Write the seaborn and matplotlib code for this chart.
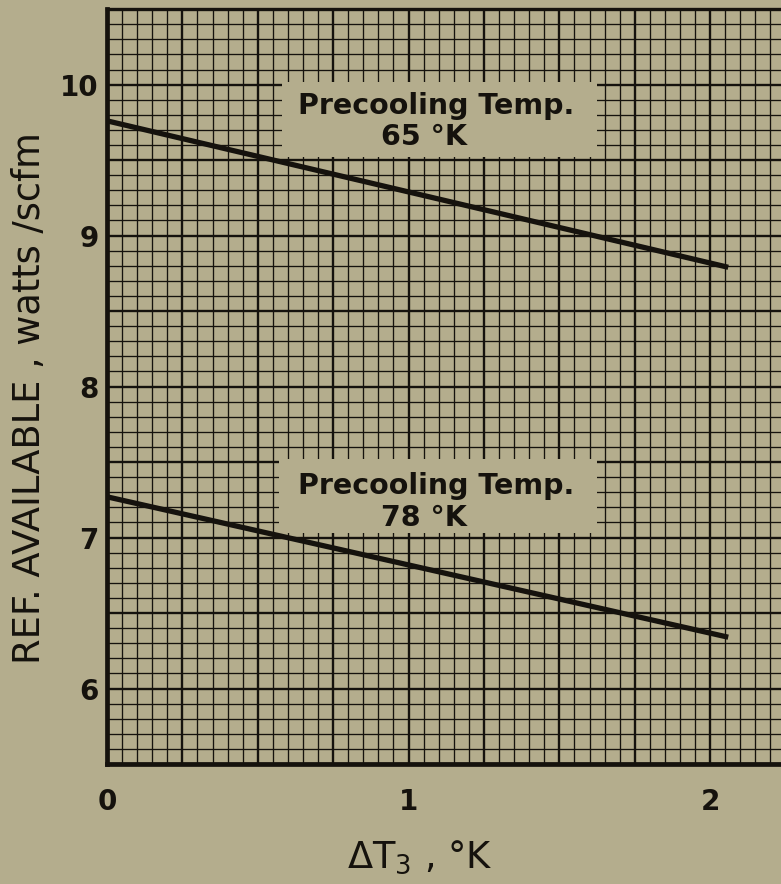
import numpy as np
import pandas as pd
import matplotlib
matplotlib.use("Agg")
import matplotlib.pyplot as plt
import matplotlib.patches as mpatches
from matplotlib.ticker import MultipleLocator, FuncFormatter
import seaborn as sns

# ------------------------------------------------------------------
# Data
# ------------------------------------------------------------------
dt3 = [0.0, 2.06]                     # delta T3, K
ref_65k = [9.76, 8.79]                # watts/scfm, precooling 65 K
ref_78k = [7.27, 6.34]                # watts/scfm, precooling 78 K
curve_labels = ["65 °K", "78 °K"]

df = pd.DataFrame({
    "dt3": dt3 + dt3,
    "ref": ref_65k + ref_78k,
    "precool": [curve_labels[0]] * 2 + [curve_labels[1]] * 2,
})

# ------------------------------------------------------------------
# Style
# ------------------------------------------------------------------
BG = "#b4ad8d"
INK = "#15120d"

sns.set_theme(style="ticks")
plt.rcParams.update({
    "font.family": ["DejaVu Sans"],
    "mathtext.fontset": "dejavusans",
    "figure.facecolor": BG,
    "axes.facecolor": BG,
    "text.color": INK,
    "axes.labelcolor": INK,
    "xtick.color": INK,
    "ytick.color": INK,
})

fig = plt.figure(figsize=(7.81, 8.84), dpi=100)
ax = fig.add_axes([0.137, 0.1357, 0.863, 0.854])

sns.lineplot(data=df, x="dt3", y="ref", units="precool", estimator=None,
             color=INK, lw=3.8, legend=False, ax=ax, zorder=4,
             solid_capstyle="butt")

ax.set_xlim(0, 2.235)
ax.set_ylim(5.5, 10.5)

# graph-paper grid
ax.xaxis.set_major_locator(MultipleLocator(0.25))
ax.xaxis.set_minor_locator(MultipleLocator(0.05))
ax.yaxis.set_major_locator(MultipleLocator(0.5))
ax.yaxis.set_minor_locator(MultipleLocator(0.1))
int_only = FuncFormatter(lambda v, p: f"{v:.0f}" if abs(v - round(v)) < 1e-6 else "")
ax.xaxis.set_major_formatter(int_only)
ax.yaxis.set_major_formatter(int_only)
ax.grid(which="major", color=INK, lw=1.7)
ax.grid(which="minor", color=INK, lw=0.95)
ax.set_axisbelow(True)

ax.tick_params(which="both", length=0)
ax.tick_params(axis="x", labelsize=20, pad=17)
ax.tick_params(axis="y", labelsize=20, pad=6)
for lab in ax.get_xticklabels() + ax.get_yticklabels():
    lab.set_fontweight("bold")

for side in ["left", "bottom"]:
    ax.spines[side].set_linewidth(3.4)
    ax.spines[side].set_color(INK)
ax.spines["top"].set_linewidth(2.4)
ax.spines["top"].set_color(INK)
ax.spines["right"].set_visible(False)

# label boxes that blank out the grid
ax.add_patch(mpatches.Rectangle((0.58, 9.52), 1.045, 0.50, facecolor=BG,
                                edgecolor="none", zorder=2))
ax.add_patch(mpatches.Rectangle((0.57, 7.03), 1.055, 0.49, facecolor=BG,
                                edgecolor="none", zorder=2))

ax.text(1.09, 9.855, "Precooling Temp.", ha="center", va="center",
        fontsize=20.5, fontweight="bold", zorder=5)
ax.text(1.05, 9.655, curve_labels[0], ha="center", va="center",
        fontsize=20.5, fontweight="bold", zorder=5)
ax.text(1.09, 7.34, "Precooling Temp.", ha="center", va="center",
        fontsize=20.5, fontweight="bold", zorder=5)
ax.text(1.05, 7.13, curve_labels[1], ha="center", va="center",
        fontsize=20.5, fontweight="bold", zorder=5)

ax.set_xlabel(r"ΔT$_3$ , °K", fontsize=26.5)
ax.set_ylabel("REF. AVAILABLE , watts /scfm", fontsize=26.5)
ax.xaxis.set_label_coords(0.464, -0.123)
ax.xaxis.label.set_va("center")
ax.yaxis.set_label_coords(-0.115, 0.485)
ax.yaxis.label.set_va("center")

plt.savefig("out.png", dpi=100, facecolor=BG)
